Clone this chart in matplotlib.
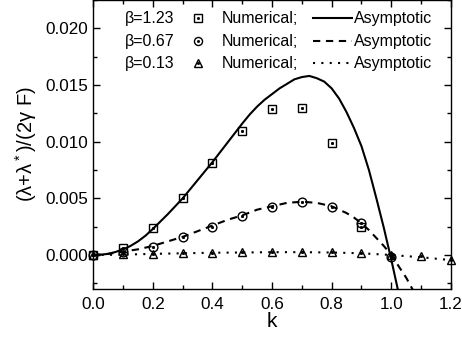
import matplotlib
matplotlib.use("Agg")
import matplotlib.pyplot as plt
from matplotlib.lines import Line2D
from matplotlib.ticker import MultipleLocator, FormatStrFormatter

plt.rcParams['font.family'] = ['Liberation Sans', 'DejaVu Sans']
plt.rcParams['mathtext.fontset'] = 'custom'
plt.rcParams['mathtext.rm'] = 'Liberation Sans'
plt.rcParams['mathtext.default'] = 'regular'

# ---- data ----
betas = ["1.23", "0.67", "0.13"]

k_num = [0.0, 0.1, 0.2, 0.3, 0.4, 0.5, 0.6, 0.7, 0.8, 0.9, 1.0, 1.1, 1.2]
num_b123 = [0.0, 0.00059, 0.00238, 0.0050, 0.0081, 0.01094, 0.01288, 0.01294, 0.00988, 0.0025]
num_b067 = [0.0, 0.0003, 0.00074, 0.00156, 0.0025, 0.00347, 0.00426, 0.00465, 0.0042, 0.0028, -0.00015]
num_b013 = [0.0, 0.0001, 0.0001, 0.00015, 0.0002, 0.00026, 0.00026, 0.0003, 0.0003, 0.0002, -0.00003, -0.0001, -0.0004]

k_a123 = [0.0, 0.025, 0.05, 0.075, 0.1, 0.125, 0.15, 0.175, 0.2, 0.25, 0.3, 0.35, 0.4, 0.45,
          0.5, 0.525, 0.55, 0.575, 0.6, 0.625, 0.65, 0.675, 0.7, 0.725, 0.75, 0.775, 0.8, 0.825, 0.85,
          0.875, 0.9, 0.925, 0.95, 0.975, 1.0, 1.025]
asym_b123 = [0.0, 0.00003, 0.0001, 0.00027, 0.0005, 0.0008, 0.0012, 0.0017, 0.0023, 0.0036,
             0.0050, 0.0066, 0.0082, 0.0099, 0.0116, 0.0124, 0.0131, 0.0137, 0.0142, 0.0147,
             0.0151, 0.0155, 0.0157, 0.0158, 0.0156, 0.0153, 0.0147, 0.0138, 0.0126, 0.0112,
             0.0096, 0.0075, 0.0050, 0.0024, -0.0004, -0.0034]

k_a067 = [0.0, 0.05, 0.1, 0.15, 0.2, 0.25, 0.3, 0.35, 0.4, 0.45, 0.5, 0.55, 0.6, 0.65,
          0.7, 0.75, 0.8, 0.825, 0.85, 0.875, 0.9, 0.925, 0.95, 0.975, 1.0, 1.025, 1.05, 1.075]
asym_b067 = [0.0, 0.0001, 0.0003, 0.0005, 0.0008, 0.0012, 0.0016, 0.0021, 0.0026, 0.0031,
             0.0035, 0.0040, 0.0043, 0.0046, 0.0047, 0.0046, 0.0043, 0.0040, 0.0037, 0.0033,
             0.0028, 0.0022, 0.0015, 0.0008, 0.0, -0.0010, -0.0020, -0.0032]

k_a013 = [0.0, 0.1, 0.2, 0.3, 0.4, 0.5, 0.6, 0.7, 0.8, 0.9, 1.0, 1.1, 1.2]
asym_b013 = [0.0, 0.00003, 0.0001, 0.00015, 0.0002, 0.00022, 0.00025, 0.00025, 0.00022,
             0.00015, 0.0, -0.0002, -0.00045]

# ---- figure ----
fig = plt.figure(figsize=(4.62, 3.41), dpi=100)
ax = fig.add_axes([0.2019, 0.1525, 0.774, 0.8475])

lw = 1.5
ax.plot(k_a123, asym_b123, color='black', lw=lw, linestyle='-', solid_joinstyle='round')
ax.plot(k_a067, asym_b067, color='black', lw=lw, linestyle=(0, (3.5, 2.7)))
ax.plot(k_a013, asym_b013, color='black', lw=lw, linestyle=(0, (1, 3)))

mk = dict(mfc='none', mec='black', mew=1.0, ms=6.3, ls='none', clip_on=False, zorder=5)
dot = dict(color='black', marker='s', ms=1.1, ls='none', clip_on=False, zorder=6)
n1 = len(num_b123); n2 = len(num_b067); n3 = len(num_b013)
ax.plot(k_num[:n1], num_b123, marker='s', **mk)
ax.plot(k_num[:n1], num_b123, **dot)
ax.plot(k_num[:n2], num_b067, marker='o', **mk)
ax.plot(k_num[:n2], num_b067, **dot)
ax.plot(k_num[:n3], num_b013, marker='^', **mk)
ax.plot(k_num[:n3], num_b013, **dot)

ax.set_xlim(0, 1.2)
ax.set_ylim(-0.0030, 0.0225)
ax.xaxis.set_major_locator(MultipleLocator(0.2))
ax.xaxis.set_minor_locator(MultipleLocator(0.1))
ax.yaxis.set_major_locator(MultipleLocator(0.005))
ax.yaxis.set_minor_locator(MultipleLocator(0.0025))
ax.xaxis.set_major_formatter(FormatStrFormatter('%.1f'))
ax.yaxis.set_major_formatter(FormatStrFormatter('%.3f'))
ax.tick_params(which='both', direction='in', top=True, right=True, labelsize=12.3, pad=4)
ax.tick_params(axis='x', pad=5.5)
ax.tick_params(which='major', length=5, width=1)
ax.tick_params(which='minor', length=3, width=1)
for s in ax.spines.values():
    s.set_linewidth(1.0)

ax.set_xlabel('k', fontsize=15, labelpad=0)
ax.set_ylabel('(λ+λ$^*$)/(2γ F)', fontsize=14.5, labelpad=4)

# ---- legend (manual layout) ----
row_y = [0.9367, 0.858, 0.781]
markers = ['s', 'o', '^']
styles = ['-', (0, (3.5, 2.7)), (0, (1, 3))]
for b, y, m, st in zip(betas, row_y, markers, styles):
    ax.text(0.0886, y, 'β=' + b, transform=ax.transAxes, fontsize=11.5, va='center', ha='left')
    ax.add_line(Line2D([0.2928], [y], transform=ax.transAxes, marker=m, mfc='none',
                       mec='black', mew=1.0, ms=5.8, ls='none'))
    ax.add_line(Line2D([0.2928], [y], transform=ax.transAxes, marker='s', color='black',
                       ms=1.0, ls='none'))
    ax.text(0.3599, y, 'Numerical;', transform=ax.transAxes, fontsize=11.5, va='center', ha='left')
    ax.add_line(Line2D([0.6141, 0.7232], [y, y], transform=ax.transAxes, color='black',
                       lw=lw, linestyle=st))
    ax.text(0.7290, y, 'Asymptotic', transform=ax.transAxes, fontsize=11.5, va='center', ha='left')

fig.savefig('out.png', dpi=100)
